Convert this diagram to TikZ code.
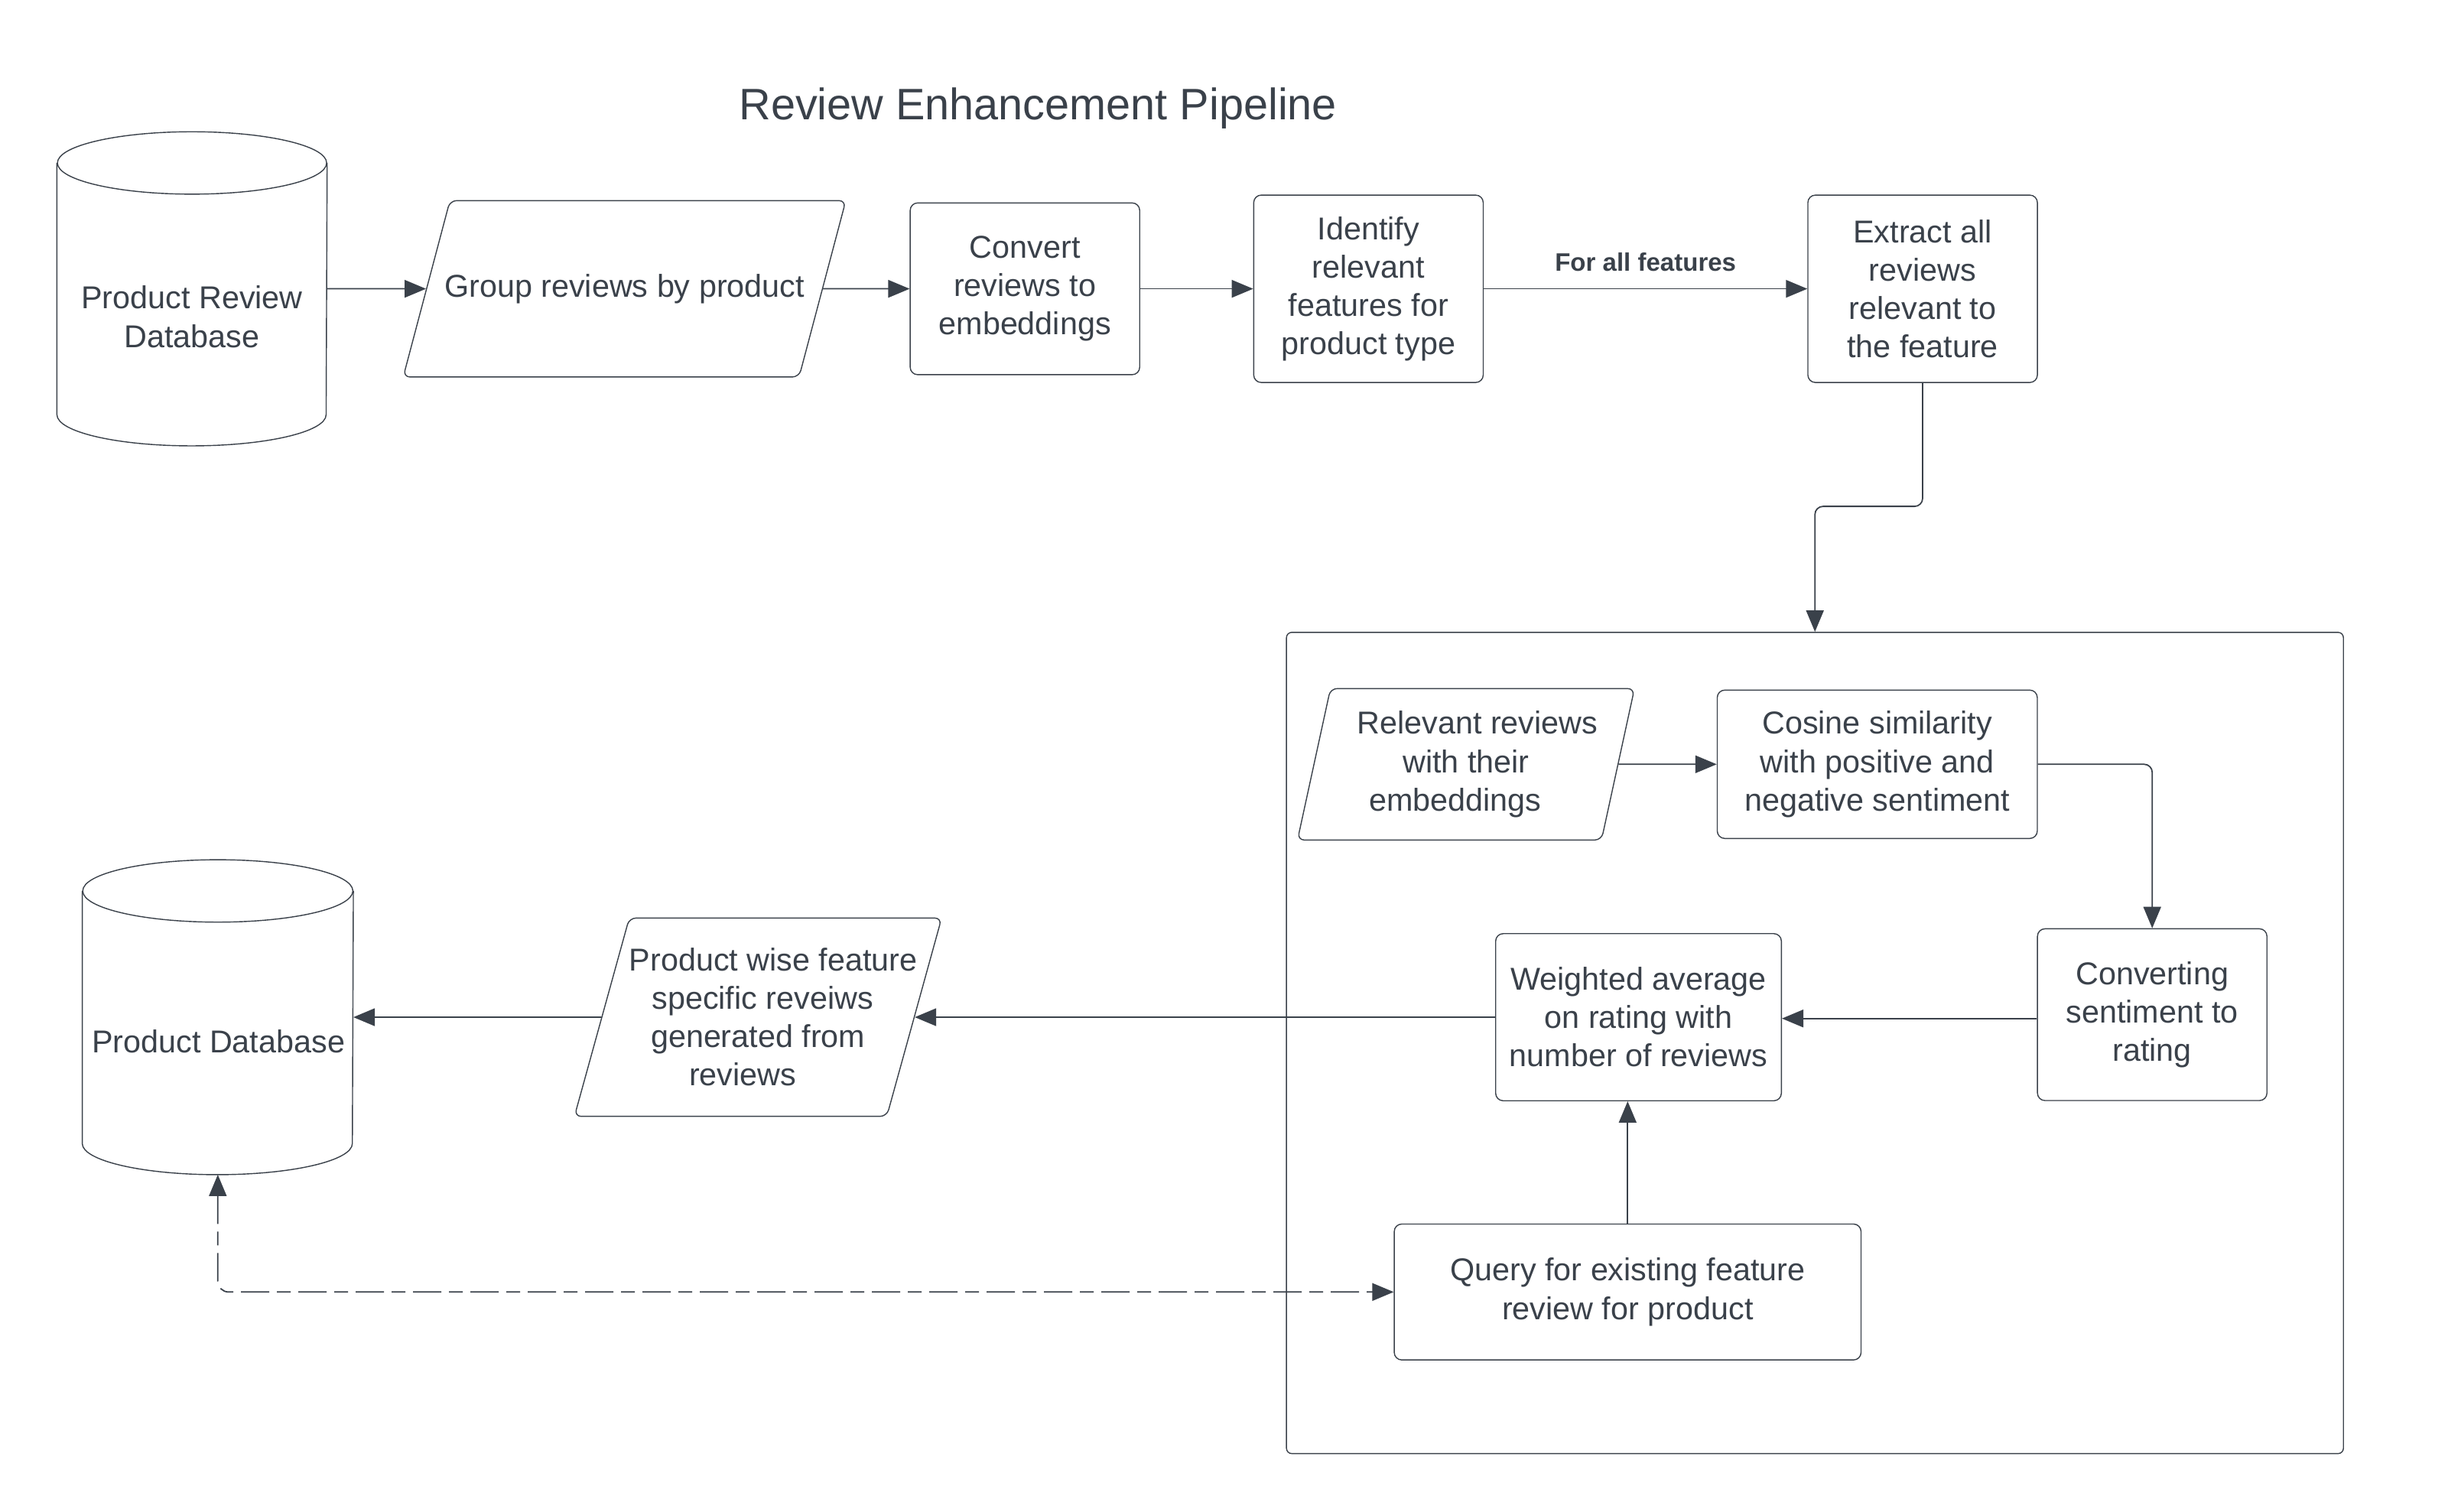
\documentclass[tikz,border=0pt]{standalone}
\usepackage{fontspec}
\setmainfont{Liberation Sans}
\usepackage{xcolor}
\usepackage{tikz}
\usetikzlibrary{calc,arrows.meta,shapes.geometric}
\definecolor{ink}{HTML}{3A414A}

\begin{document}
\begin{tikzpicture}[>={Triangle[length=2.8mm,width=2.3mm]},color=ink,line width=0.4pt,
  every node/.style={font=\fontsize{11.76}{14.24}\selectfont,align=center},
  box/.style={draw,rounded corners=2.8pt,inner sep=2pt},
  para/.style={draw,trapezium,trapezium stretches=true,rounded corners=2.5pt,inner xsep=-6pt},
  db/.style={minimum width=3.519cm,minimum height=4.093cm,inner sep=0pt},
  arr/.style={->,line width=0.5pt}]
\useasboundingbox (0,0) rectangle (32.01,-19.76);
\node[font=\fontsize{16.4}{20}\selectfont] (title) at (13.573,-1.42) {Review Enhancement Pipeline};
% top row
\node[db] (revdb) at (2.511,-3.776) {};
\draw ($(revdb.north west)+(0,-0.408)$) -- ($(revdb.south west)+(0,0.408)$)
  arc[start angle=180,end angle=360,x radius=1.76,y radius=0.408] -- ($(revdb.north east)+(0,-0.408)$);
\draw ($(revdb.north)+(0,-0.408)$) ellipse [x radius=1.76,y radius=0.408];
\node (revdbtext) at (2.511,-4.142) {Product Review\\Database};
\node[para,inner ysep=0.95cm,trapezium left angle=75.9,trapezium right angle=104.1,minimum width=5.798cm,minimum height=2.306cm] (group) at (8.166,-3.776) {Group reviews by product};
\node[box,minimum width=3.001cm,minimum height=2.246cm] (convert) at (13.402,-3.776) {Convert\\reviews to\\embeddings};
\node[box,minimum width=3.001cm,minimum height=2.45cm] (identify) at (17.894,-3.776) {Identify\\relevant\\features for\\product type};
\node[box,minimum width=3.001cm,minimum height=2.45cm] (extract) at (25.14,-3.776) {Extract all\\reviews\\relevant to\\the feature};
\draw[arr] (revdb.east) -- (group.west);
\draw[arr] (group.east) -- (convert.west);
\draw[arr] (convert.east) -- (identify.west);
\draw[arr] (identify.east) -- (extract.west)
  node[midway,above=3pt,font=\bfseries\fontsize{9.4}{11}\selectfont] {For all features};
% loop over the features
\node[draw,rounded corners=2pt,minimum width=13.821cm,minimum height=10.738cm] (loop) at (23.732,-13.637) {};
\draw[arr,rounded corners=3pt] (extract.south) -- ++(0,-1.613) -| (loop.north);
\node[para,inner ysep=0.29cm,trapezium left angle=79.4,trapezium right angle=100.6,minimum width=4.409cm,minimum height=1.98cm] (relrev) at (19.169,-9.993)
  {\hspace*{0.3cm}Relevant reviews\\with their\hspace*{0.02cm}\\embeddings\hspace*{0.28cm}};
\node[box,minimum width=4.185cm,minimum height=1.94cm] (cosine) at (24.547,-9.993) {Cosine similarity\\with positive and\\negative sentiment};
\node[box,minimum width=3.001cm,minimum height=2.246cm] (rating) at (28.142,-13.267) {Converting\\sentiment to\\rating};
\node[box,minimum width=3.736cm,minimum height=2.185cm] (weighted) at (21.425,-13.3) {Weighted average\\on rating with\\number of reviews};
\node[box,minimum width=6.104cm,minimum height=1.777cm] (query) at (21.283,-16.893) {Query for existing feature\\review for product};
\draw[arr] (relrev.east) -- (cosine.west);
\draw[arr,rounded corners=3pt] (cosine.east) -| (rating.north);
\draw[arr] ($(rating.west)+(0,-0.05)$) -- ($(rating.west -| weighted.east)+(0,-0.05)$);
\draw[arr] (query.north) -- (query.north |- weighted.south);
% back to the product database
\node[para,inner xsep=-0.4cm,inner ysep=0.39cm,trapezium left angle=74.5,trapezium right angle=105.5,minimum width=4.755cm,minimum height=2.593cm] (prodwise) at (9.912,-13.3)
  {\hspace*{0.4cm}Product wise feature\\\hspace*{0.12cm}specific reveiws\\generated from\hspace*{0.2cm}\\reviews\hspace*{0.4cm}};
\node[db,minimum width=3.531cm,minimum height=4.104cm] (proddb) at (2.848,-13.3) {};
\draw ($(proddb.north west)+(0,-0.408)$) -- ($(proddb.south west)+(0,0.408)$)
  arc[start angle=180,end angle=360,x radius=1.766,y radius=0.408] -- ($(proddb.north east)+(0,-0.408)$);
\draw ($(proddb.north)+(0,-0.408)$) ellipse [x radius=1.766,y radius=0.408];
\node (proddbtext) at (2.857,-13.617) {Product Database};
\draw[arr] (weighted.west) -- (prodwise.east);
\draw[arr] (prodwise.west) -- (proddb.east);
\draw[<->,line width=0.5pt,dash pattern=on 3.7mm off 1mm on 1.8mm off 1mm,rounded corners=4pt] (proddb.south) |- (query.west);
\end{tikzpicture}
\end{document}
